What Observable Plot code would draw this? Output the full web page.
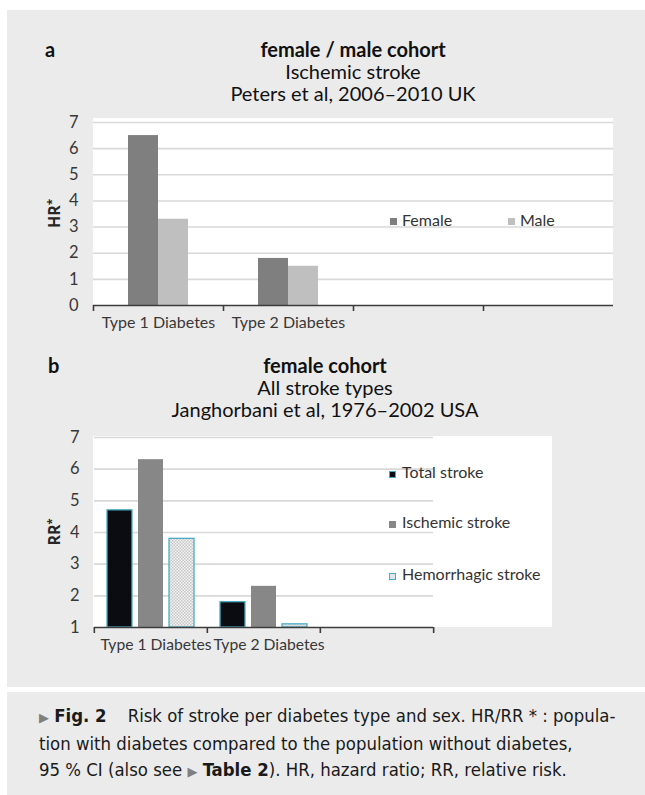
<!DOCTYPE html>
<html>
<head>
<meta charset="utf-8">
<script src="https://cdn.jsdelivr.net/npm/d3@7"></script>
<script src="https://cdn.jsdelivr.net/npm/@observablehq/plot@0.6"></script>
<style>
  body { margin: 0; background: #fff; }
  #root { position: relative; width: 645px; height: 795px; overflow: hidden; font-family: Lato, "Open Sans", sans-serif; color: #1a1a1a; }
  .panel { position: absolute; background: #ebebeb; }
  .white { position: absolute; background: #fff; }
  .ttl { position: absolute; white-space: nowrap; text-align: center; font-size: 20px; line-height: 22px; color: #111; }
  .ttl b { font-weight: 700; }
  .tag { position: absolute; font-size: 20px; font-weight: 700; color: #111; }
  .leg { position: absolute; white-space: nowrap; font-size: 16px; line-height: 16px; color: #333; }
  .sw { position: absolute; box-sizing: border-box; }
  .svgwrap { position: absolute; left: 0; }
  #caption { position: absolute; left: 39px; top: 703px; font-family: "DejaVu Sans Condensed", "Liberation Sans Narrow", Lato, sans-serif; font-size: 18.4px; line-height: 26px; color: #1a1a1a; white-space: nowrap; }
  .tri { color: #808080; font-size: 13px; font-family: "DejaVu Sans", sans-serif; }
</style>
</head>
<body>
<div id="root">
  <div class="panel" style="left:7px;top:10px;width:638px;height:677px;"></div>
  <div class="panel" style="left:7px;top:692px;width:638px;height:103px;"></div>

  <div class="white" style="left:93px;top:118px;width:520px;height:187px;"></div>
  <div class="white" style="left:93px;top:436px;width:459px;height:191px;"></div>

  <div class="tag" style="left:45px;top:37px;">a</div>
  <div class="ttl" style="left:153px;width:400px;top:38px;"><b>female / male cohort</b><br>Ischemic stroke<br>Peters et al, 2006–2010 UK</div>

  <div class="tag" style="left:48px;top:353px;">b</div>
  <div class="ttl" style="left:125px;width:400px;top:354px;"><b>female cohort</b><br>All stroke types<br>Janghorbani et al, 1976–2002 USA</div>

  <div class="svgwrap" id="chartA" style="top:100px;"></div>
  <div class="svgwrap" id="chartB" style="top:420px;"></div>

  <div id="legendA"></div>
  <div id="legendB"></div>

  <div id="caption">
    <span class="tri">▶</span> <b>Fig. 2</b>&nbsp;&nbsp;&nbsp;&nbsp;Risk of stroke per diabetes type and sex. HR/RR * : popula-<br>
    tion with diabetes compared to the population without diabetes,<br>
    95 % CI (also see <span class="tri">▶</span> <b>Table 2</b>). HR, hazard ratio; RR, relative risk.
  </div>
</div>

<script>
// ---------- Data ----------
// Panel a: Peters et al, ischemic stroke (HR*)
const categoriesA = ["Type 1 Diabetes", "Type 2 Diabetes", " ", "  "];
const seriesA = ["Female", "Male"];
const femaleA = [6.5, 1.8, null, null];
const maleA = [3.3, 1.5, null, null];
const yTicksA = [0, 1, 2, 3, 4, 5, 6, 7];

// Panel b: Janghorbani et al, all stroke types (RR*)
const categoriesB = ["Type 1 Diabetes", "Type 2 Diabetes", " "];
const seriesB = ["Total stroke", "Ischemic stroke", "Hemorrhagic stroke"];
const totalB = [4.7, 1.8, null];
const ischemicB = [6.3, 2.3, null];
const hemorrhagicB = [3.8, 1.1, null];
const yTicksB = [1, 2, 3, 4, 5, 6, 7];
const baseB = 1;

// ---------- Styling ----------
const FONT = "Lato, 'Open Sans', sans-serif";
const TEXT = "#383838";
const AXIS = "#3c3c3c";
const GRID = "#d9d9d9";
const TEAL = "#4bacc6";
const colorsA = ["#7f7f7f", "#bfbfbf"];
const colorsB = ["#0b0b12", "#878787", "url(#dotsB)"];
const W = 645;
const intFmt = d3.format("d");

const rowsA = categoriesA.flatMap((c, i) => [
  {cat: c, series: seriesA[0], value: femaleA[i]},
  {cat: c, series: seriesA[1], value: maleA[i]}
]);
const valuesB = [totalB, ischemicB, hemorrhagicB];
const rowsB = categoriesB.flatMap((c, i) => seriesB.map((s, j) => ({cat: c, series: s, value: valuesB[j][i]})));

// ---------- Chart a ----------
const mlA = 93, mrA = 32;
const stepA = (W - mlA - mrA) / categoriesA.length;
const plotA = Plot.plot({
  width: W, height: 240,
  marginTop: 22, marginBottom: 35, marginLeft: mlA, marginRight: mrA,
  style: {fontFamily: FONT, fontSize: "16px", color: TEXT, background: "transparent", overflow: "visible"},
  fx: {domain: categoriesA, padding: 0, label: null},
  x: {domain: seriesA, paddingInner: 0, paddingOuter: 1.1, axis: null},
  y: {domain: [0, 7], label: null},
  color: {domain: seriesA, range: colorsA},
  marks: [
    Plot.ruleY(yTicksA.filter(t => t > 0), {stroke: GRID, strokeWidth: 1.6}),
    Plot.barY(rowsA, {fx: "cat", x: "series", y: "value", fill: "series"}),
    Plot.ruleY([0], {stroke: AXIS, strokeWidth: 1.6}),
    Plot.axisY({ticks: yTicksA, tickFormat: intFmt, tickSize: 0, tickPadding: 15, fontSize: 16.5, label: null}),
    Plot.axisFx({anchor: "bottom", tickSize: 6, tickFormat: () => "", dx: -stepA / 2, stroke: AXIS, strokeWidth: 1.6, label: null}),
    Plot.axisFx({anchor: "bottom", tickSize: 0, tickPadding: 11, fontSize: 16, label: null})
  ]
});
document.getElementById("chartA").appendChild(plotA);

// ---------- Chart b ----------
const mlB = 93, mrB = 212;
const stepB = (W - mlB - mrB) / categoriesB.length;
const plotB = Plot.plot({
  width: W, height: 245,
  marginTop: 17, marginBottom: 38, marginLeft: mlB, marginRight: mrB,
  style: {fontFamily: FONT, fontSize: "16px", color: TEXT, background: "transparent", overflow: "visible"},
  fx: {domain: categoriesB, padding: 0, label: null},
  x: {domain: seriesB, paddingInner: 0.18, paddingOuter: 0.41, axis: null},
  y: {domain: [baseB, 7], label: null},
  color: {domain: seriesB, range: colorsB},
  marks: [
    Plot.ruleY(yTicksB.filter(t => t > baseB), {stroke: GRID, strokeWidth: 1.6}),
    Plot.barY(rowsB, {fx: "cat", x: "series", y1: baseB, y2: "value", fill: "series"}),
    Plot.barY(rowsB.filter(d => d.series !== seriesB[1]), {fx: "cat", x: "series", y1: baseB, y2: "value", fill: "none", stroke: TEAL, strokeWidth: 1.3}),
    Plot.ruleY([baseB], {stroke: AXIS, strokeWidth: 1.6}),
    Plot.axisY({ticks: yTicksB, tickFormat: intFmt, tickSize: 0, tickPadding: 15, fontSize: 16.5, label: null}),
    Plot.axisFx({anchor: "bottom", tickSize: 6, tickFormat: () => "", dx: -stepB / 2, stroke: AXIS, strokeWidth: 1.6, label: null}),
    Plot.axisFx({anchor: "bottom", ticks: [categoriesB[categoriesB.length - 1]], tickSize: 6, tickFormat: () => "", dx: stepB / 2, stroke: AXIS, strokeWidth: 1.6, label: null}),
    Plot.axisFx({anchor: "bottom", tickSize: 0, tickPadding: 11, fontSize: 15.7, dx: 5, label: null})
  ]
});
document.getElementById("chartB").appendChild(plotB);

// dotted pattern for hemorrhagic bars
const defs = d3.select(plotB).insert("defs", ":first-child");
const pat = defs.append("pattern").attr("id", "dotsB").attr("patternUnits", "userSpaceOnUse").attr("width", 3).attr("height", 3);
pat.append("rect").attr("width", 3).attr("height", 3).attr("fill", "#f4f4f4");
pat.append("rect").attr("width", 1.5).attr("height", 1.5).attr("fill", "#c6c6c6");
pat.append("rect").attr("x", 1.5).attr("y", 1.5).attr("width", 1.5).attr("height", 1.5).attr("fill", "#c6c6c6");

// rotated y-axis titles with superscript asterisk
function yTitle(svg, label, cy) {
  const t = d3.select(svg).append("text")
    .attr("transform", `translate(60,${cy}) rotate(-90)`)
    .attr("text-anchor", "middle")
    .attr("font-family", "'Open Sans', Lato, sans-serif")
    .attr("font-weight", "bold").attr("font-size", 16).attr("fill", "#262626");
  t.append("tspan").text(label);
  t.append("tspan").attr("dy", "-0.5em").attr("font-size", 11).text("*");
}
yTitle(plotA, "HR", plotA.scale("y").apply(3.5));
yTitle(plotB, "RR", plotB.scale("y").apply(4));

// ---------- Legends (HTML) ----------
function addLegend(el, items) {
  const root = document.getElementById(el);
  items.forEach(it => {
    const sw = document.createElement("div");
    sw.className = "sw";
    Object.assign(sw.style, {left: it.sx + "px", top: it.sy + "px", width: "7px", height: "7px", background: it.fill, border: it.border || "none"});
    root.appendChild(sw);
    const tx = document.createElement("div");
    tx.className = "leg";
    tx.textContent = it.label;
    Object.assign(tx.style, {left: it.tx + "px", top: it.ty + "px"});
    root.appendChild(tx);
  });
}
addLegend("legendA", [
  {label: seriesA[0], fill: colorsA[0], sx: 390, sy: 218, tx: 402, ty: 212},
  {label: seriesA[1], fill: colorsA[1], sx: 508, sy: 218, tx: 520, ty: 212}
]);
addLegend("legendB", [
  {label: seriesB[0], fill: "#0b0b12", border: "1.3px solid " + TEAL, sx: 389, sy: 471, tx: 402, ty: 464},
  {label: seriesB[1], fill: "#878787", sx: 389, sy: 521, tx: 402, ty: 514},
  {label: seriesB[2], fill: "#dde8ee", border: "1.3px solid " + TEAL, sx: 389, sy: 573, tx: 402, ty: 566}
]);
</script>
</body>
</html>
